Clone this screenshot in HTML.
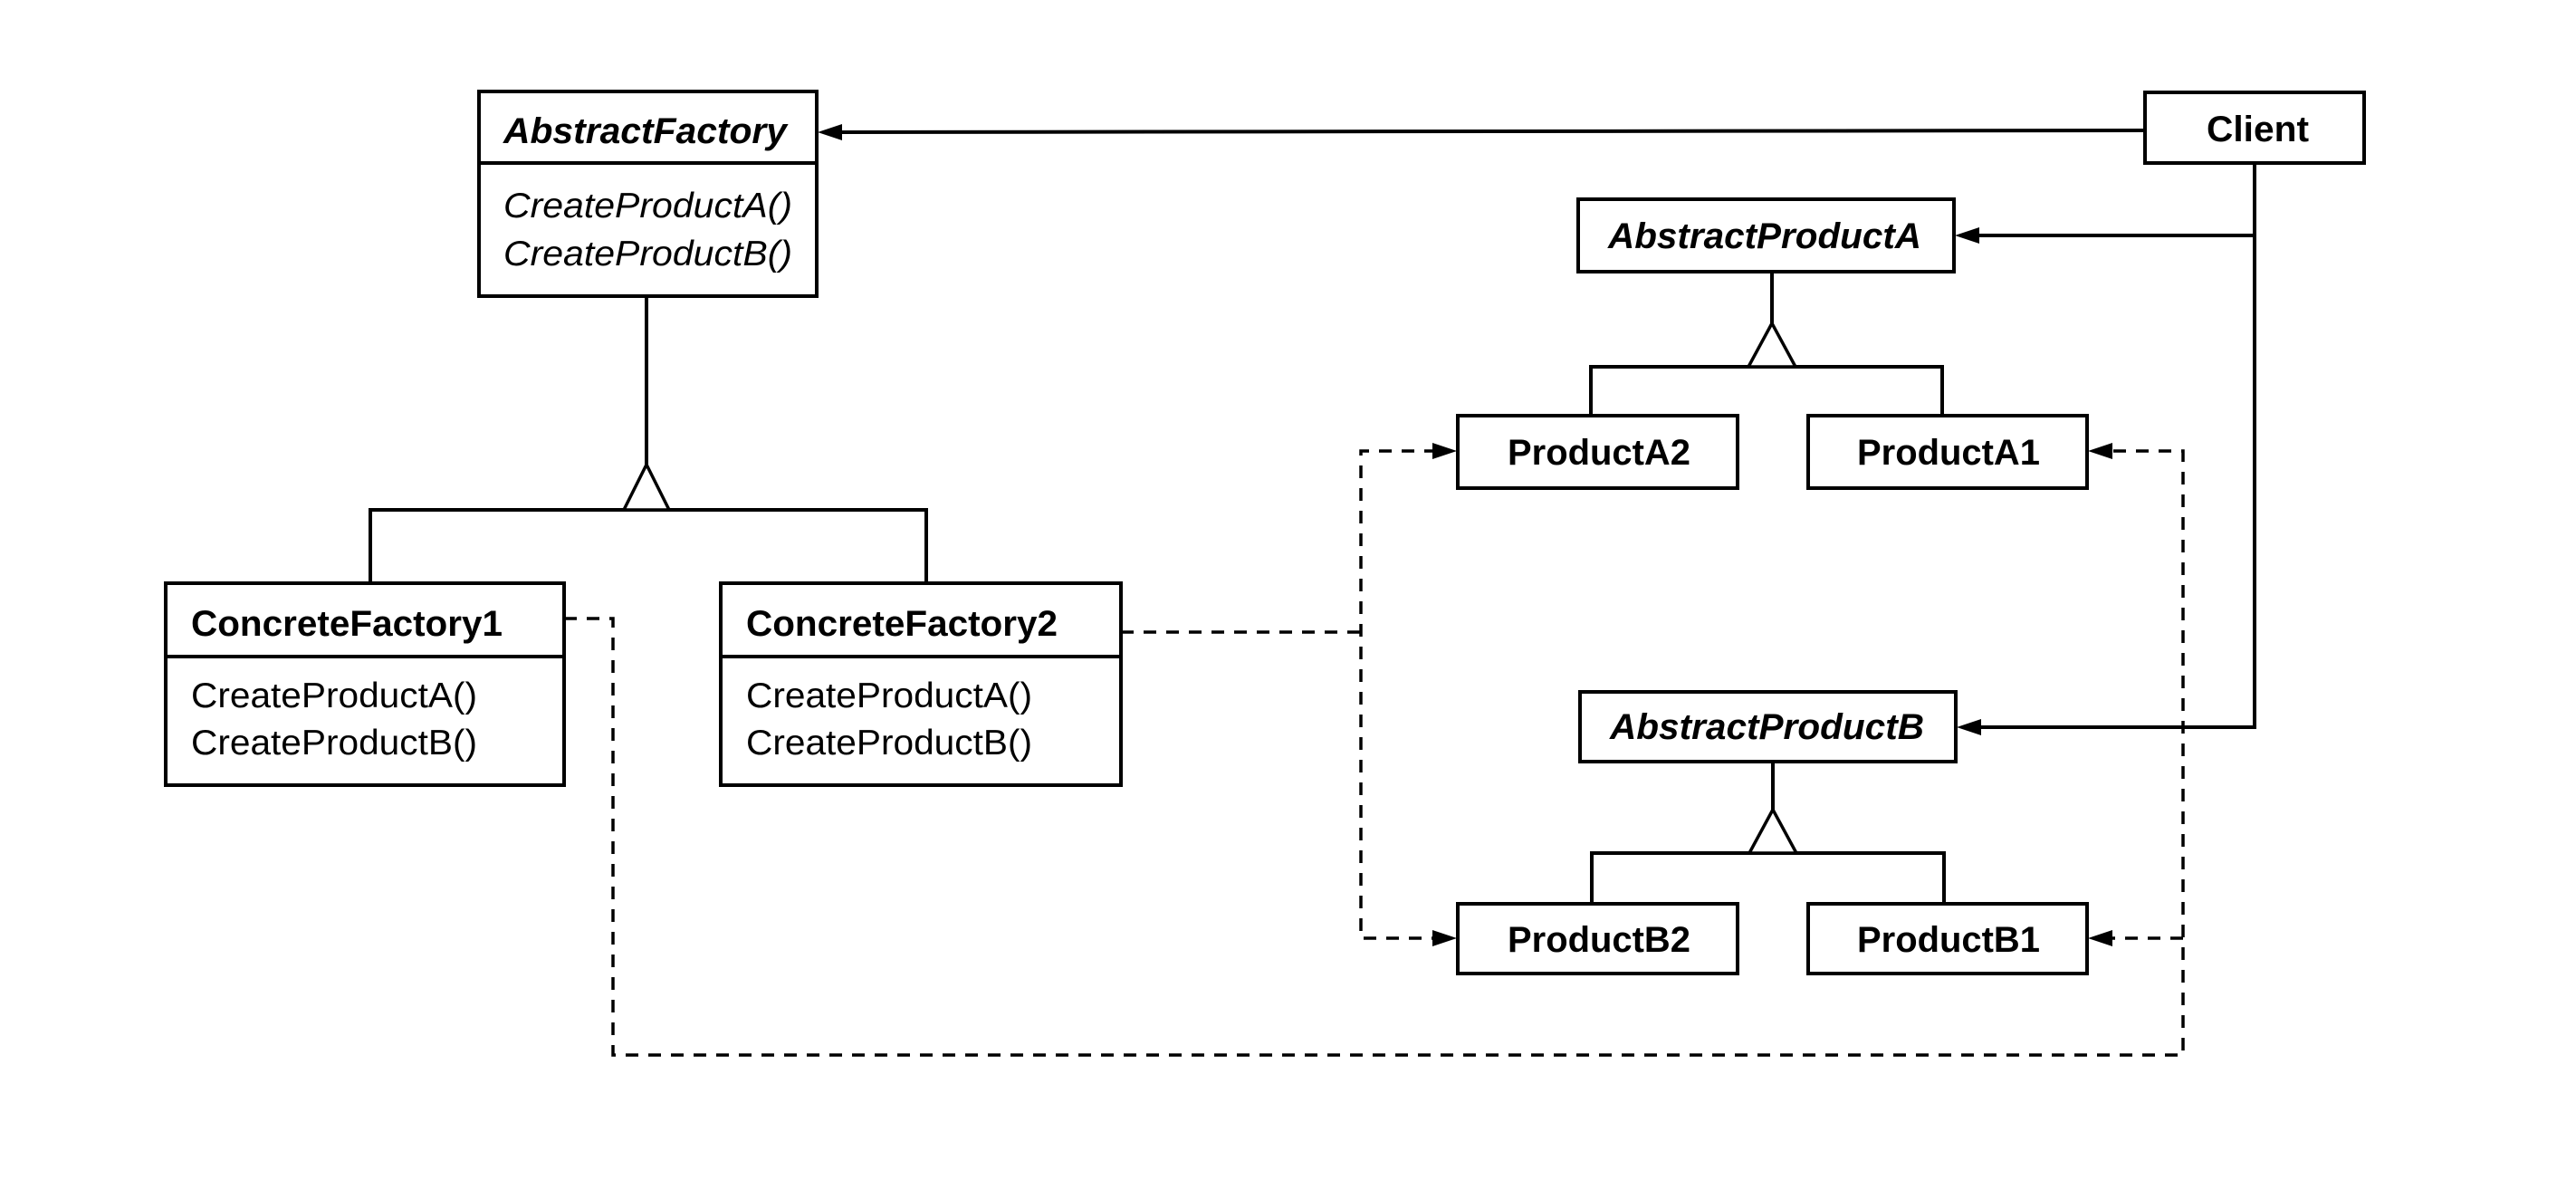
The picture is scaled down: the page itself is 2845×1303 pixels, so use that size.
<!DOCTYPE html>
<html><head><meta charset="utf-8"><style>
html,body{margin:0;padding:0;background:#fff;}
svg{display:block;}
text{font-family:"Liberation Sans",Arial,sans-serif;fill:#000;}
.b{font-weight:bold;}
.i{font-style:italic;}
</style></head><body>
<svg width="2845" height="1303" viewBox="0 0 2845 1303" xmlns="http://www.w3.org/2000/svg">
<rect width="2845" height="1303" fill="#fff"/>
<g fill="none" stroke="#000" stroke-width="4">
  <rect x="529" y="101" width="373" height="226"/>
  <line x1="529" y1="180" x2="902" y2="180"/>
  <rect x="183" y="644" width="440" height="223"/>
  <line x1="183" y1="725" x2="623" y2="725"/>
  <rect x="796" y="644" width="442" height="223"/>
  <line x1="796" y1="725" x2="1238" y2="725"/>
  <rect x="2369" y="102" width="242" height="78"/>
  <rect x="1743" y="220" width="415" height="80"/>
  <rect x="1745" y="764" width="415" height="77"/>
  <rect x="1610" y="459" width="309" height="80"/>
  <rect x="1997" y="459" width="308" height="80"/>
  <rect x="1610" y="998" width="309" height="77"/>
  <rect x="1997" y="998" width="308" height="77"/>
</g>
<g fill="none" stroke="#000" stroke-width="4">
  <line x1="2369" y1="144" x2="925" y2="146"/>
  <polyline points="2490,180 2490,803 2182,803"/>
  <line x1="2490" y1="260" x2="2180" y2="260"/>
  <line x1="714" y1="327" x2="714" y2="513"/>
  <polyline points="409,644 409,563 1023,563 1023,644"/>
  <line x1="1957" y1="300" x2="1957" y2="357"/>
  <polyline points="1757,459 1757,405 2145,405 2145,459"/>
  <line x1="1958" y1="841" x2="1958" y2="894"/>
  <polyline points="1758,998 1758,942 2147,942 2147,998"/>
</g>
<g fill="#fff" stroke="#000" stroke-width="3.5" stroke-linejoin="miter">
  <polygon points="714,513 689,563 739,563"/>
  <polygon points="1957,357 1931,405 1983,405"/>
  <polygon points="1958,894 1932,942 1984,942"/>
</g>
<g fill="none" stroke="#000" stroke-width="3.5" stroke-dasharray="14,11">
  <polyline points="623,683 677,683 677,1165 2411,1165 2411,498 2330,498"/>
  <line x1="2411" y1="1036" x2="2330" y2="1036"/>
  <polyline points="1238,698 1503,698"/>
  <polyline points="1587,498 1503,498 1503,1036 1587,1036"/>
</g>
<g fill="#000">
  <polygon points="903,146 930,137 930,155"/>
  <polygon points="2159,260 2186,251 2186,269"/>
  <polygon points="2161,803 2188,794 2188,812"/>
  <polygon points="1609,498 1582,489 1582,507"/>
  <polygon points="1609,1036 1582,1027 1582,1045"/>
  <polygon points="2306,498 2333,489 2333,507"/>
  <polygon points="2306,1036 2333,1027 2333,1045"/>
</g>
<text class="b i" x="556" y="158" font-size="40" textLength="313" lengthAdjust="spacingAndGlyphs">AbstractFactory</text>
<text class="i" x="556" y="240" font-size="39" textLength="319" lengthAdjust="spacingAndGlyphs">CreateProductA()</text>
<text class="i" x="556" y="293" font-size="39" textLength="319" lengthAdjust="spacingAndGlyphs">CreateProductB()</text>

<text class="b" x="211" y="702" font-size="40" textLength="344" lengthAdjust="spacingAndGlyphs">ConcreteFactory1</text>
<text x="211" y="781" font-size="39" textLength="316" lengthAdjust="spacingAndGlyphs">CreateProductA()</text>
<text x="211" y="833" font-size="39" textLength="316" lengthAdjust="spacingAndGlyphs">CreateProductB()</text>

<text class="b" x="824" y="702" font-size="40" textLength="344" lengthAdjust="spacingAndGlyphs">ConcreteFactory2</text>
<text x="824" y="781" font-size="39" textLength="316" lengthAdjust="spacingAndGlyphs">CreateProductA()</text>
<text x="824" y="833" font-size="39" textLength="316" lengthAdjust="spacingAndGlyphs">CreateProductB()</text>

<text class="b" x="2437" y="156" font-size="40" textLength="113" lengthAdjust="spacingAndGlyphs">Client</text>
<text class="b i" x="1776" y="274" font-size="40" textLength="346" lengthAdjust="spacingAndGlyphs">AbstractProductA</text>
<text class="b i" x="1778" y="816" font-size="40" textLength="347" lengthAdjust="spacingAndGlyphs">AbstractProductB</text>
<text class="b" x="1665" y="513" font-size="40" textLength="202" lengthAdjust="spacingAndGlyphs">ProductA2</text>
<text class="b" x="2051" y="513" font-size="40" textLength="202" lengthAdjust="spacingAndGlyphs">ProductA1</text>
<text class="b" x="1665" y="1051" font-size="40" textLength="202" lengthAdjust="spacingAndGlyphs">ProductB2</text>
<text class="b" x="2051" y="1051" font-size="40" textLength="202" lengthAdjust="spacingAndGlyphs">ProductB1</text>
</svg>
</body></html>
